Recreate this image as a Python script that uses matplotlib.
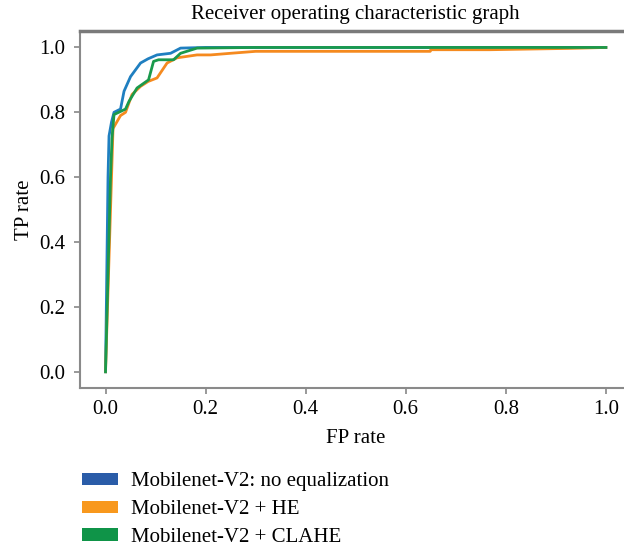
import matplotlib.pyplot as plt
from matplotlib.patches import Patch

# ROC points (FP rate, TP rate)
fpr_none = [0.0, 0.005, 0.007, 0.012, 0.017, 0.03, 0.037, 0.05, 0.07, 0.085, 0.103, 0.13, 0.15, 0.2, 0.5, 1.0]
tpr_none = [0.0, 0.60, 0.727, 0.77, 0.80, 0.81, 0.865, 0.91, 0.952, 0.965, 0.977, 0.982, 0.998, 1.0, 1.0, 1.0]

fpr_he = [0.0, 0.012, 0.015, 0.03, 0.04, 0.053, 0.07, 0.085, 0.103, 0.123, 0.143, 0.183, 0.21, 0.25, 0.30, 0.649, 0.65, 0.768, 0.924, 1.0]
tpr_he = [0.0, 0.60, 0.75, 0.79, 0.80, 0.855, 0.88, 0.895, 0.906, 0.952, 0.968, 0.977, 0.977, 0.982, 0.988, 0.988, 0.993, 0.993, 0.997, 1.0]

fpr_clahe = [0.0, 0.01, 0.013, 0.017, 0.04, 0.047, 0.063, 0.086, 0.096, 0.106, 0.136, 0.15, 0.183, 0.3, 1.0]
tpr_clahe = [0.0, 0.60, 0.72, 0.793, 0.81, 0.834, 0.875, 0.90, 0.957, 0.962, 0.962, 0.982, 0.998, 1.0, 1.0]

labels = ['Mobilenet-V2: no equalization', 'Mobilenet-V2 + HE', 'Mobilenet-V2 + CLAHE']
line_colors = ['#1f7fc0', '#f58a1f', '#1a9a4c']
legend_colors = ['#2a5ca8', '#f8981d', '#0f9448']

plt.rcParams['font.family'] = ['Liberation Serif', 'DejaVu Serif']

fig = plt.figure(figsize=(6.24, 5.48), dpi=100)
ax = fig.add_axes([0.129, 0.292, 0.882, 0.651])

ax.plot(fpr_none, tpr_none, color=line_colors[0], lw=2)
ax.plot(fpr_he, tpr_he, color=line_colors[1], lw=2)
ax.plot(fpr_clahe, tpr_clahe, color=line_colors[2], lw=2)

ax.set_xlim(-0.05, 1.05)
ax.set_ylim(-0.05, 1.05)
ax.set_xticks([0.0, 0.2, 0.4, 0.6, 0.8, 1.0])
ax.set_yticks([0.0, 0.2, 0.4, 0.6, 0.8, 1.0])
ax.tick_params(labelsize=15, length=4, width=1.2, color='#888888')
ax.tick_params(axis='x', pad=5)
ax.tick_params(axis='y', pad=7)

for name, sp in ax.spines.items():
    sp.set_color('#8a8a8a')
    sp.set_linewidth(1.5)
ax.spines['top'].set_linewidth(2.5)
ax.spines['top'].set_color('#7a7a7a')

ax.set_title('Receiver operating characteristic graph', fontsize=15, pad=9)
ax.set_xlabel('FP rate', fontsize=15, labelpad=7)
ax.set_ylabel('TP rate', fontsize=15, labelpad=4)

handles = [Patch(facecolor=c, edgecolor='none') for c in legend_colors]
fig.legend(handles, labels, loc='upper left', bbox_to_anchor=(72 / 624, 1 - 462 / 548),
           frameon=False, fontsize=15, borderpad=0, handlelength=1.7, handleheight=0.55,
           handletextpad=0.65, labelspacing=0.42)

fig.savefig('out.png', dpi=100)
